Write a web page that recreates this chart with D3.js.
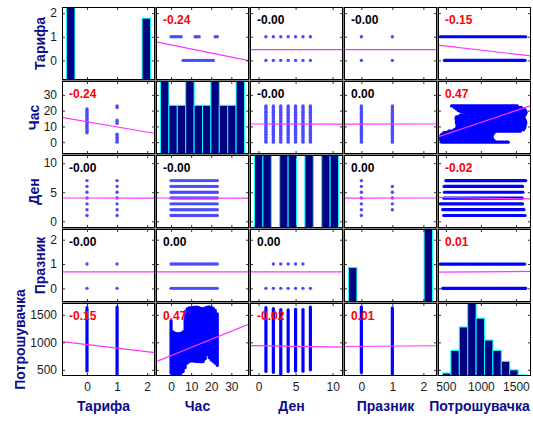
<!DOCTYPE html>
<html>
<head>
<meta charset="utf-8">
<title>Scatter matrix</title>
<script src="https://cdn.jsdelivr.net/npm/d3@7"></script>
<style>
  body { margin: 0; background: #fff; }
  text { font-family: "Liberation Sans", Arial, sans-serif; }
</style>
</head>
<body>
<div id="chart"></div>
<script>
// variables, in matrix order
var names = ["Тарифа", "Час", "Ден", "Празник", "Потрошувачка"];
var ticks = [[0, 1, 2], [0, 10, 20, 30], [0, 5, 10], [0, 1, 2], [500, 1000, 1500]];
var varDomains = [[-0.83, 2.26], [-7.5, 38.8], [-1.15, 11.4], [-0.56, 2.44], [388, 1715]];

// levels of the discrete variables
var tariffs = [0, 1];
var hours = [0, 1, 2, 3, 4, 5, 6, 7, 8, 9, 10, 11, 12, 13, 14, 15, 16, 17, 18, 19, 20, 21, 22, 23];
var days = [1, 2, 3, 4, 5, 6, 7];
var holidays = [0, 1];

// which hours appear with each tariff, which days with each holiday flag
var tariffHours = [
  [6, 7, 8, 9, 10, 11, 12, 13, 14, 15, 16, 17, 18, 19, 20, 21],
  [0, 1, 2, 3, 4, 5, 12, 13, 14, 22, 23]
];
var holidayDays = [[1, 2, 3, 4, 5, 6, 7], [2, 3, 4, 5, 6]];

// range of consumption seen at each level
var tariffConsMin = [480, 420];
var tariffConsMax = [1630, 1640];
var hourConsMin = [440, 430, 425, 420, 425, 440, 470, 540, 620, 650, 660, 660, 655, 650, 650, 645, 650, 700, 780, 720, 680, 650, 620, 580];
var hourConsMax = [1390, 1190, 1170, 1160, 1160, 1170, 1190, 1560, 1610, 1625, 1630, 1635, 1640, 1640, 1630, 1620, 1615, 1625, 1640, 1645, 1640, 1620, 1580, 1520];
var dayConsMin = [470, 455, 420, 470, 480, 475, 500];
var dayConsMax = [1630, 1615, 1595, 1590, 1600, 1595, 1640];
var holidayConsMin = [455, 420];
var holidayConsMax = [1640, 1625];

// histograms on the diagonal (10 bins each)
var histTariff = [4745, 0, 0, 0, 0, 0, 0, 0, 0, 4015];
var histHour = [1095, 730, 730, 1095, 730, 730, 1095, 730, 730, 1095];
var histDay = [1250, 1250, 0, 1250, 1250, 0, 1250, 0, 1250, 1250];
var histHoliday = [4100, 0, 0, 0, 0, 0, 0, 0, 0, 8700];
var histCons = [96, 840, 1610, 2400, 1900, 1180, 840, 480, 200, 35];

// means and standard deviations, for the least-squares lines
var means = [0.458, 11.5, 4, 0.68, 930];
var sds = [0.498, 6.92, 2.0, 0.466, 217];

// correlation coefficients
var corr = [
  [1, -0.24, -0.001, -0.001, -0.15],
  [-0.24, 1, -0.001, 0.001, 0.47],
  [-0.001, -0.001, 1, 0.001, -0.02],
  [-0.001, 0.001, 0.001, 1, 0.01],
  [-0.15, 0.47, -0.02, 0.01, 1]
];

var levels = [tariffs, hours, days, holidays];
var consMin = [tariffConsMin, hourConsMin, dayConsMin, holidayConsMin];
var consMax = [tariffConsMax, hourConsMax, dayConsMax, holidayConsMax];
var hists = [histTariff, histHour, histDay, histHoliday, histCons];

var gridLeft = 62, gridTop = 7, stepX = 94, stepY = 74, pw = 93, ph = 73;
var labelColor = "#0c0c8c";

var svg = d3.select("#chart").append("svg").attr("width", 533).attr("height", 423);

// combinations of two discrete variables that occur, as [a, b]
function discretePairs(a, b) {
  if (a > b) {
    return discretePairs(b, a).map(function(p) { return [p[1], p[0]]; });
  }
  var out = [];
  if (a == 0 && b == 1) {
    tariffs.forEach(function(t, k) {
      tariffHours[k].forEach(function(h) { out.push([t, h]); });
    });
  } else if (a == 2 && b == 3) {
    holidays.forEach(function(p, k) {
      holidayDays[k].forEach(function(d) { out.push([d, p]); });
    });
  } else {
    levels[a].forEach(function(u) {
      levels[b].forEach(function(v) { out.push([u, v]); });
    });
  }
  return out;
}

var xs = names.map(function(n, j) {
  return d3.scaleLinear().domain(varDomains[j]).range([gridLeft + j * stepX, gridLeft + j * stepX + pw]);
});
var ys = names.map(function(n, i) {
  return d3.scaleLinear().domain(varDomains[i]).range([gridTop + i * stepY + ph, gridTop + i * stepY]);
});

svg.append("rect").attr("x", gridLeft).attr("y", gridTop)
  .attr("width", 4 * stepX + pw).attr("height", 4 * stepY + ph).attr("fill", "#808080");

var defs = svg.append("defs");

for (var i = 0; i < 5; i++) {
  for (var j = 0; j < 5; j++) {
    var x0 = gridLeft + j * stepX, y0 = gridTop + i * stepY;
    var x = xs[j], y = ys[i];
    var g = svg.append("g");

    g.append("rect").attr("x", x0).attr("y", y0).attr("width", pw).attr("height", ph).attr("fill", "#fff");

    var clipId = "clip" + i + j;
    defs.append("clipPath").attr("id", clipId)
      .append("rect").attr("x", x0).attr("y", y0).attr("width", pw).attr("height", ph);
    var body = g.append("g").attr("clip-path", "url(#" + clipId + ")");

    if (i == j) {
      var counts = hists[i];
      var hx = d3.scaleLinear().domain([0, counts.length]).range([x0 + 4.5, x0 + pw - 4.5]);
      var hy = d3.scaleLinear().domain([0, d3.max(counts)]).range([y0 + ph, y0]);
      counts.forEach(function(c, k) {
        if (c <= 0) return;
        body.append("rect")
          .attr("x", hx(k)).attr("y", hy(c))
          .attr("width", hx(k + 1) - hx(k)).attr("height", hy(0) - hy(c))
          .attr("fill", "#000080").attr("stroke", "#00ffff").attr("stroke-width", 1);
      });
    } else if (j == 4) {
      // consumption on x, a discrete variable on y
      body.selectAll("line.seg").data(levels[i]).enter().append("line")
        .attr("x1", function(v, k) { return x(consMin[i][k]); })
        .attr("x2", function(v, k) { return x(consMax[i][k]); })
        .attr("y1", function(v) { return y(v); })
        .attr("y2", function(v) { return y(v); })
        .attr("stroke", "#0000ff").attr("stroke-width", 3.2).attr("stroke-linecap", "round");
    } else if (i == 4) {
      body.selectAll("line.seg").data(levels[j]).enter().append("line")
        .attr("y1", function(v, k) { return y(consMin[j][k]); })
        .attr("y2", function(v, k) { return y(consMax[j][k]); })
        .attr("x1", function(v) { return x(v); })
        .attr("x2", function(v) { return x(v); })
        .attr("stroke", "#0000ff").attr("stroke-width", 3.2).attr("stroke-linecap", "round");
    } else {
      body.selectAll("circle").data(discretePairs(j, i)).enter().append("circle")
        .attr("cx", function(p) { return x(p[0]); })
        .attr("cy", function(p) { return y(p[1]); })
        .attr("r", 1.7)
        .attr("fill", "#4a4aff");
    }

    if (i != j) {
      // least-squares line of row variable on column variable
      var b = corr[i][j] * sds[i] / sds[j];
      var a = means[i] - b * means[j];
      var d = x.domain();
      body.append("line")
        .attr("x1", x(d[0])).attr("y1", y(a + b * d[0]))
        .attr("x2", x(d[1])).attr("y2", y(a + b * d[1]))
        .attr("stroke", "#ff33ff").attr("stroke-width", 1.2);
    }

    // inward ticks on all four sides
    g.append("g").attr("transform", "translate(0," + (y0 + ph) + ")")
      .call(d3.axisTop(x).tickValues(ticks[j]).tickSize(3).tickFormat(""));
    g.append("g").attr("transform", "translate(0," + y0 + ")")
      .call(d3.axisBottom(x).tickValues(ticks[j]).tickSize(3).tickFormat(""));
    g.append("g").attr("transform", "translate(" + x0 + ",0)")
      .call(d3.axisRight(y).tickValues(ticks[i]).tickSize(3).tickFormat(""));
    g.append("g").attr("transform", "translate(" + (x0 + pw) + ",0)")
      .call(d3.axisLeft(y).tickValues(ticks[i]).tickSize(3).tickFormat(""));
    g.selectAll(".domain").remove();
    g.selectAll(".tick line").attr("stroke", "#333");

    g.append("rect").attr("x", x0 + 0.5).attr("y", y0 + 0.5)
      .attr("width", pw - 1).attr("height", ph - 1)
      .attr("fill", "none").attr("stroke", "#000");

    if (i != j) {
      var r = corr[i][j];
      g.append("text")
        .attr("x", x0 + 7).attr("y", y0 + 17)
        .attr("font-size", 12).attr("font-weight", "bold")
        .attr("fill", Math.abs(r) >= 0.005 ? "#ff0000" : "#000")
        .text(r.toFixed(2));
    }
  }
}

// tick labels and variable names
for (var j = 0; j < 5; j++) {
  var ax = svg.append("g").attr("transform", "translate(0," + (gridTop + 4 * stepY + ph) + ")")
    .call(d3.axisBottom(xs[j]).tickValues(ticks[j]).tickSize(0).tickPadding(6.5).tickFormat(String));
  ax.select(".domain").remove();
  ax.selectAll("text").attr("font-size", 12).attr("fill", "#1a1a1a").style("font-family", "Liberation Sans, Arial, sans-serif");

  svg.append("text")
    .attr("x", gridLeft + j * stepX + pw / 2 - 5).attr("y", 411)
    .attr("text-anchor", "middle")
    .attr("font-size", 14).attr("font-weight", "bold").attr("fill", labelColor)
    .text(names[j]);
}

for (var i = 0; i < 5; i++) {
  var ay = svg.append("g").attr("transform", "translate(" + gridLeft + ",0)")
    .call(d3.axisLeft(ys[i]).tickValues(ticks[i]).tickSize(0).tickPadding(5).tickFormat(String));
  ay.select(".domain").remove();
  ay.selectAll("text").attr("font-size", 12).attr("fill", "#1a1a1a").style("font-family", "Liberation Sans, Arial, sans-serif");

  var w = d3.max(ay.selectAll("text").nodes(), function(n) { return n.getComputedTextLength(); });
  var lx = gridLeft - 5 - w - 5;
  var cy = gridTop + i * stepY + ph / 2;
  svg.append("text")
    .attr("transform", "translate(" + lx + "," + cy + ") rotate(-90)")
    .attr("text-anchor", "middle")
    .attr("font-size", 14).attr("font-weight", "bold").attr("fill", labelColor)
    .text(names[i]);
}
</script>
</body>
</html>
